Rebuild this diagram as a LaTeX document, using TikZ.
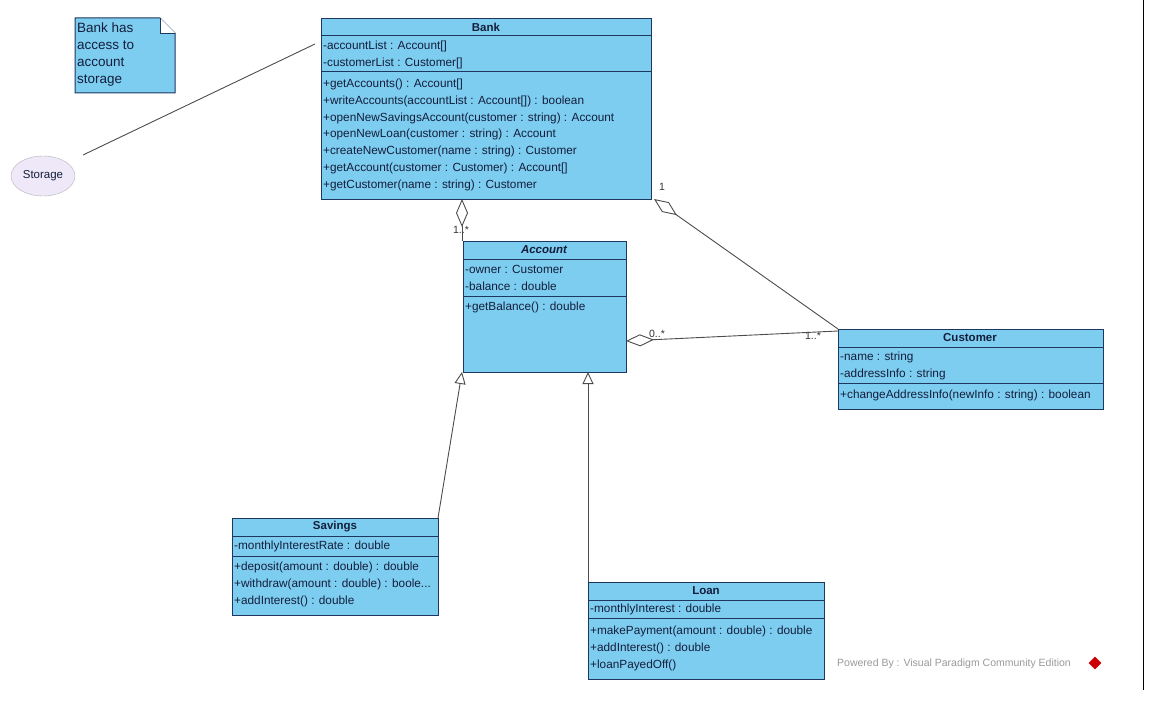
\documentclass[tikz,border=0pt]{standalone}
\usepackage{fontspec}
\setmainfont{Liberation Sans}
\usetikzlibrary{shapes.geometric,arrows.meta}
\definecolor{cls}{RGB}{125,205,240}
\definecolor{bd}{RGB}{30,55,95}
\definecolor{txt}{RGB}{20,30,60}
\begin{document}
\begin{tikzpicture}[x=1pt,y=-1pt,
  box/.style={draw=bd,fill=cls,line width=1pt},
  sep/.style={draw=bd,line width=1pt},
  t/.style={anchor=west,inner sep=0pt,text=txt,font=\fontsize{11.8}{13}\selectfont},
  ttl/.style={anchor=center,inner sep=0pt,text=txt,font=\fontsize{11.5}{13}\selectfont\bfseries},
  lbl/.style={inner sep=0pt,text=black!80,font=\fontsize{10.5}{11}\selectfont},
  conn/.style={draw=black!70,line width=0.9pt},
  agg/.style={conn,{Diamond[open,fill=white,length=28pt,width=12pt]}-},
  gen/.style={conn,-{Triangle[open,fill=white,length=12pt,width=11pt]}}]
\useasboundingbox (0,0) rectangle (1151,706);
\draw[black,line width=1pt] (1143,0) -- (1143,690);
% Note
\filldraw[bd,fill=cls,line width=1pt] (75,18) -- (160,18) -- (175,33) -- (175,93) -- (75,93) -- cycle;
\draw[bd,line width=0.8pt,fill=white] (160,18) -- (160,33) -- (175,33);
\node[t,align=left,font=\fontsize{13.5}{17}\selectfont] (notetext) at (77,55) {Bank has\\access to\\account\\storage};
% Storage
\node[ellipse,draw=black!30,fill={rgb,255:red,238;green,232;blue,248},minimum width=64pt,minimum height=40pt,inner sep=0pt,text=txt,font=\fontsize{11.5}{13}\selectfont] (storage) at (43,176) {Storage};
% Bank
\node[box,minimum width=330pt,minimum height=181pt,anchor=north west] (bank) at (321,18) {};
\draw[sep] (321,36) -- (651,36); \draw[sep] (321,72) -- (651,72);
\node[ttl] (bankt) at (486,27) {Bank};
\node[t] (b1) at (323,46) {-accountList : Account[]};
\node[t] (b2) at (323,63) {-customerList : Customer[]};
\node[t] (b3) at (323,84) {+getAccounts() : Account[]};
\node[t] (b4) at (323,101) {+writeAccounts(accountList : Account[]) : boolean};
\node[t] (b5) at (323,118) {+openNewSavingsAccount(customer : string) : Account};
\node[t] (b6) at (323,134) {+openNewLoan(customer : string) : Account};
\node[t] (b7) at (323,151) {+createNewCustomer(name : string) : Customer};
\node[t] (b8) at (323,168) {+getAccount(customer : Customer) : Account[]};
\node[t] (b9) at (323,185) {+getCustomer(name : string) : Customer};
% Account
\node[box,minimum width=163pt,minimum height=131pt,anchor=north west] (acc) at (463,241) {};
\draw[sep] (463,259) -- (626,259); \draw[sep] (463,296) -- (626,296);
\node[ttl,font=\fontsize{11.5}{13}\selectfont\bfseries\itshape] (acct) at (544,250) {Account};
\node[t] (a1) at (465,269) {-owner : Customer};
\node[t] (a2) at (465,286) {-balance : double};
\node[t] (a3) at (465,307) {+getBalance() : double};
% Customer
\node[box,minimum width=265pt,minimum height=80pt,anchor=north west] (cust) at (838,329) {};
\draw[sep] (838,347) -- (1103,347); \draw[sep] (838,383) -- (1103,383);
\node[ttl] (custt) at (970,338) {Customer};
\node[t] (c1) at (840,357) {-name : string};
\node[t] (c2) at (840,374) {-addressInfo : string};
\node[t] (c3) at (840,395) {+changeAddressInfo(newInfo : string) : boolean};
% Savings
\node[box,minimum width=206pt,minimum height=97pt,anchor=north west] (sav) at (232,518) {};
\draw[sep] (232,536) -- (438,536); \draw[sep] (232,556) -- (438,556);
\node[ttl] (savt) at (335,527) {Savings};
\node[t] (s1) at (234,546) {-monthlyInterestRate : double};
\node[t] (s2) at (234,567) {+deposit(amount : double) : double};
\node[t] (s3) at (234,584) {+withdraw(amount : double) : boole...};
\node[t] (s4) at (234,601) {+addInterest() : double};
% Loan
\node[box,minimum width=236pt,minimum height=97pt,anchor=north west] (loan) at (588,582) {};
\draw[sep] (588,600) -- (824,600); \draw[sep] (588,618) -- (824,618);
\node[ttl] (loant) at (706,591) {Loan};
\node[t] (l1) at (590,609) {-monthlyInterest : double};
\node[t] (l2) at (590,631) {+makePayment(amount : double) : double};
\node[t] (l3) at (590,648) {+addInterest() : double};
\node[t] (l4) at (590,665) {+loanPayedOff()};
% watermark
\node[inner sep=0pt,anchor=west,text=black!40,font=\fontsize{10.5}{12}\selectfont] (wm) at (837,664) {Powered By : Visual Paradigm Community Edition};
\node[diamond,fill=red!80!black,inner sep=0pt,minimum size=13pt] (wmi) at (1095,663) {};
% connectors
\coordinate (sE) at (83,155);
\coordinate (bW) at (315,44);
\draw[conn] (sE) -- (bW);
\coordinate (bBot) at (462,199); \coordinate (aTop) at (462,241);
\draw[agg] (bBot) -- (aTop);
\node[lbl] (m1) at (461,230) {1..*};
\coordinate (bCorner) at (654,199); \coordinate (cCorner) at (838,329);
\draw[agg] (bCorner) -- (cCorner);
\node[lbl] (m2) at (662,187) {1};
\node[lbl] (m3) at (813,336) {1..*};
\coordinate (aR) at (626,341); \coordinate (cL) at (838,331);
\draw[agg] (aR) -- (cL);
\node[lbl] (m4) at (657,334) {0..*};
\coordinate (sTop) at (438,518); \coordinate (aB1) at (462,372);
\draw[gen] (sTop) -- (aB1);
\coordinate (lTop) at (588,582); \coordinate (aB2) at (588,372);
\draw[gen] (lTop) -- (aB2);
\end{tikzpicture}
\end{document}
